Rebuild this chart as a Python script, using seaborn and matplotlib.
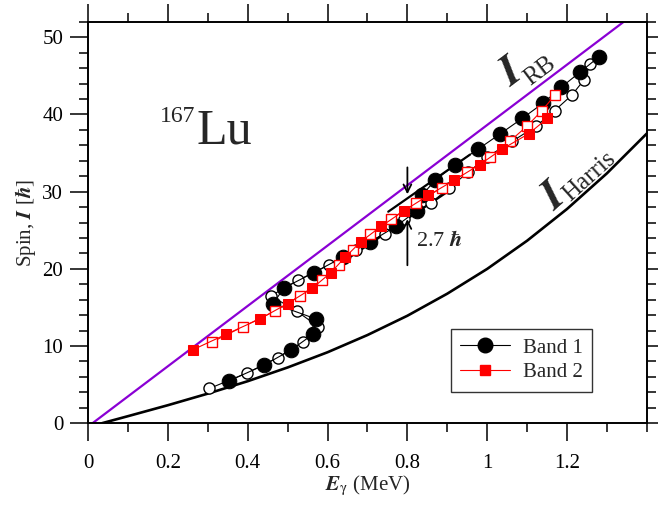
import matplotlib

matplotlib.use("Agg")
import matplotlib.pyplot as plt
import seaborn as sns
from matplotlib.ticker import MultipleLocator

# --- data ---
# Band 1, signature with filled circles (spin, E_gamma)
b1_fill_spin = [5.5, 7.5, 9.5, 11.5, 13.5, 15.5, 17.5, 19.5, 21.5, 23.5, 25.5,
                27.5, 29.5, 31.5, 33.5, 35.5, 37.5, 39.5, 41.5, 43.5, 45.5, 47.5]
b1_fill_e = [0.354, 0.440, 0.509, 0.563, 0.571, 0.464, 0.490, 0.565, 0.638, 0.707, 0.771,
             0.823, 0.836, 0.870, 0.920, 0.977, 1.033, 1.088, 1.141, 1.185, 1.233, 1.281]
# Band 1, signature with open circles
b1_open_spin = [4.5, 6.5, 8.5, 10.5, 12.5, 14.5, 16.5, 18.5, 20.5, 22.5, 24.5,
                26.5, 28.5, 30.5, 32.5, 34.5, 36.5, 38.5, 40.5, 42.5, 44.5, 46.5]
b1_open_e = [0.304, 0.398, 0.475, 0.538, 0.577, 0.523, 0.458, 0.525, 0.604, 0.672, 0.744,
             0.792, 0.858, 0.905, 0.952, 1.000, 1.062, 1.123, 1.169, 1.212, 1.243, 1.258]
# Band 2, filled squares
b2_fill_spin = [9.5, 11.5, 13.5, 15.5, 17.5, 19.5, 21.5, 23.5, 25.5, 27.5, 29.5,
                31.5, 33.5, 35.5, 37.5, 39.5]
b2_fill_e = [0.262, 0.345, 0.430, 0.500, 0.562, 0.608, 0.644, 0.683, 0.734, 0.791, 0.852,
             0.918, 0.981, 1.037, 1.104, 1.151]
# Band 2, open squares
b2_open_spin = [10.5, 12.5, 14.5, 16.5, 18.5, 20.5, 22.5, 24.5, 26.5, 28.5, 30.5,
                32.5, 34.5, 36.5, 38.5, 40.5, 42.5]
b2_open_e = [0.310, 0.388, 0.467, 0.531, 0.586, 0.628, 0.663, 0.707, 0.759, 0.822, 0.886,
             0.949, 1.007, 1.056, 1.100, 1.137, 1.170]

# rigid-body reference line
rb_e = [0.011, 1.342]
rb_spin = [0.0, 52.0]
# Harris reference curve
harris_e = [0.035, 0.1, 0.2, 0.3, 0.4, 0.5, 0.6, 0.7, 0.8, 0.9, 1.0, 1.1, 1.2, 1.3, 1.4]
harris_spin = [0.0, 0.91, 2.33, 3.83, 5.44, 7.22, 9.19, 11.42, 13.92, 16.78, 19.99,
               23.64, 27.75, 32.37, 37.53]
# guide lines showing the 2.7 hbar gain
guide_hi_e = [0.752, 0.957]
guide_hi_spin = [27.4, 34.8]
guide_lo_e = [0.644, 0.907]
guide_lo_spin = [21.1, 30.2]

sns.set_theme(style="ticks")
plt.rcParams["font.family"] = ["Liberation Serif", "DejaVu Serif"]
plt.rcParams["mathtext.fontset"] = "stix"

fig = plt.figure(figsize=(6.58, 5.08), dpi=100)
ax = fig.add_axes([0.134, 0.167, 0.849, 0.790])

sns.lineplot(x=rb_e, y=rb_spin, color="#8a00d4", lw=1.6, ax=ax)
sns.lineplot(x=harris_e, y=harris_spin, color="black", lw=1.9, ax=ax)
sns.lineplot(x=guide_hi_e, y=guide_hi_spin, color="black", lw=1.6, ax=ax)
sns.lineplot(x=guide_lo_e, y=guide_lo_spin, color="black", lw=1.6, ax=ax)

sns.lineplot(x=b1_open_e, y=b1_open_spin, sort=False, estimator=None, color="black",
             lw=0.8, marker="o", markersize=8, markerfacecolor="white",
             markeredgecolor="black", markeredgewidth=1.0, ax=ax)
sns.lineplot(x=b1_fill_e, y=b1_fill_spin, sort=False, estimator=None, color="black",
             lw=0.8, marker="o", markersize=10.5, markerfacecolor="black",
             markeredgecolor="black", ax=ax)
sns.lineplot(x=b2_open_e, y=b2_open_spin, sort=False, estimator=None, color="red",
             lw=0.8, marker="s", markersize=6.5, markerfacecolor="white",
             markeredgecolor="red", markeredgewidth=1.0, ax=ax)
sns.lineplot(x=b2_fill_e, y=b2_fill_spin, sort=False, estimator=None, color="red",
             lw=0.8, marker="s", markersize=7, markerfacecolor="red",
             markeredgecolor="red", ax=ax)

# double arrow marking the spin jump
ax.annotate("", xy=(0.8, 29.3), xytext=(0.8, 33.5),
            arrowprops=dict(arrowstyle="->", color="black", lw=1.3, mutation_scale=14))
ax.annotate("", xy=(0.8, 26.8), xytext=(0.8, 20.1),
            arrowprops=dict(arrowstyle="->", color="black", lw=1.3, mutation_scale=14))
ax.text(0.822, 23.6, r"2.7 $\mathbfit{\hbar}$", fontsize=16, va="center", ha="left")

ax.text(0.271, 36.3, "Lu", fontsize=36, ha="left", va="baseline")
ax.text(0.268, 39.0, "167", fontsize=17, ha="right", va="baseline")

ax.text(1.062, 45.5, r"$\mathbfit{I}$", fontsize=32, rotation=37,
        ha="center", va="center", rotation_mode="anchor")
ax.text(1.133, 45.6, "RB", fontsize=18, rotation=37,
        ha="center", va="center", rotation_mode="anchor")
ax.text(1.168, 29.4, r"$\mathbfit{I}$", fontsize=32, rotation=42,
        ha="center", va="center", rotation_mode="anchor")
ax.text(1.255, 32.0, "Harris", fontsize=18, rotation=42,
        ha="center", va="center", rotation_mode="anchor")

ax.set_xlim(0, 1.4)
ax.set_ylim(0, 52)
ax.xaxis.set_major_locator(MultipleLocator(0.2))
ax.xaxis.set_minor_locator(MultipleLocator(0.1))
ax.yaxis.set_major_locator(MultipleLocator(10))
ax.yaxis.set_minor_locator(MultipleLocator(2))
ax.set_xticks([0, 0.2, 0.4, 0.6, 0.8, 1.0, 1.2])
ax.set_xticklabels(["0", "0.2", "0.4", "0.6", "0.8", "1", "1.2"])
ax.tick_params(which="both", direction="out", top=True, right=True,
               labelsize=15, width=1.1, color="black", labelcolor="black")
ax.tick_params(which="major", length=13, pad=5)
ax.tick_params(axis="x", which="major", pad=9)
ax.tick_params(which="minor", length=6.5)
for sp in ax.spines.values():
    sp.set_visible(True)
    sp.set_linewidth(1.4)
    sp.set_color("black")

ax.set_xlabel(r"$\mathbfit{E}_{\mathrm{\gamma}}$ (MeV)", fontsize=15, labelpad=1)
ax.set_ylabel(r"Spin, $\mathbfit{I}$ [$\mathbfit{\hbar}$]", fontsize=15, labelpad=3)

h1 = plt.Line2D([], [], color="black", lw=0.8, marker="o", markersize=10.5)
h2 = plt.Line2D([], [], color="red", lw=0.8, marker="s", markersize=7)
leg = ax.legend([h1, h2], ["Band 1", "Band 2"], loc="lower right",
                bbox_to_anchor=(0.902, 0.078), borderaxespad=0, fontsize=15,
                frameon=True, fancybox=False, edgecolor="black", handlelength=2.4,
                borderpad=0.45, labelspacing=0.25, handletextpad=0.6)
leg.get_frame().set_linewidth(1.0)

fig.savefig("out.png", dpi=100)
